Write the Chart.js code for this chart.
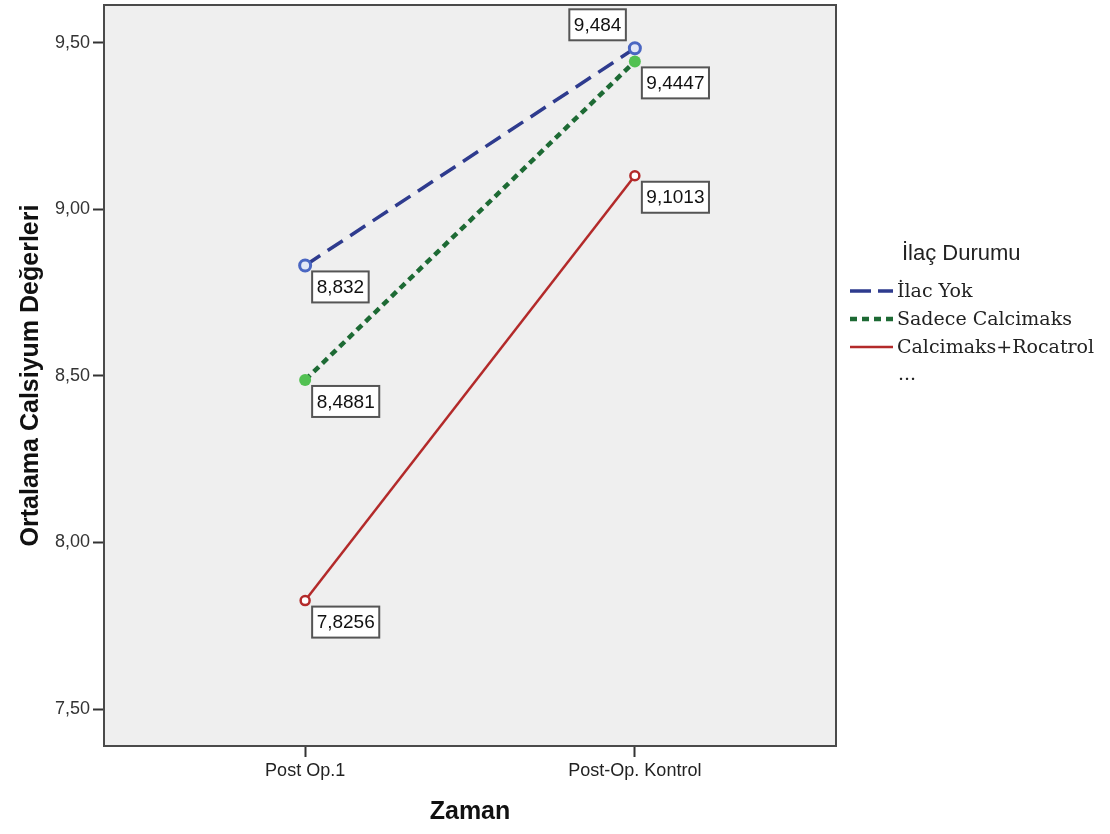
<!DOCTYPE html>
<html>
<head>
<meta charset="utf-8">
<script src="https://cdn.jsdelivr.net/npm/chart.js@4/dist/chart.umd.min.js"></script>
<style>
  html, body { margin: 0; padding: 0; background: #fff; }
  #wrap { width: 1110px; height: 834px; }
</style>
</head>
<body>
<div id="wrap"><canvas id="chart" width="1110" height="834"></canvas></div>
<script>
// data
const timePoints = ["Post Op.1", "Post-Op. Kontrol"];
const seriesNames = ["İlac Yok", "Sadece Calcimaks", "Calcimaks+Rocatrol"];
const ilacYok = [8.832, 9.484];
const sadeceCalcimaks = [8.4881, 9.4447];
const calcimaksRocatrol = [7.8256, 9.1013];
const yTicks = [7.5, 8.0, 8.5, 9.0, 9.5];
const valueLabels = [["8,832", "9,484"], ["8,4881", "9,4447"], ["7,8256", "9,1013"]];

// styling
const lineColors = ["#2e3b8e", "#1d6a34", "#b32a2a"];
const lineDashes = [[18, 9], [7, 5], []];
const lineWidths = [3.5, 4.5, 2.5];
// which side of the point each label box sits on
const labelSides = [["below", "above"], ["below", "below"], ["below", "below"]];

const FONT = "'Liberation Sans', Arial, sans-serif";

function toPoints(values) {
  return values.map((v, i) => ({ x: i, y: v }));
}

const plotBox = {
  id: "plotBox",
  beforeDraw(chart) {
    const { ctx, chartArea: a } = chart;
    ctx.save();
    ctx.fillStyle = "#efefef";
    ctx.fillRect(a.left, a.top, a.right - a.left, a.bottom - a.top);
    ctx.restore();
  },
  beforeDatasetsDraw(chart) {
    const { ctx, chartArea: a } = chart;
    ctx.save();
    ctx.strokeStyle = "#4a4a4a";
    ctx.lineWidth = 2;
    ctx.strokeRect(a.left, a.top, a.right - a.left, a.bottom - a.top);
    ctx.restore();
  }
};

const valueBoxes = {
  id: "valueBoxes",
  afterDatasetsDraw(chart) {
    const ctx = chart.ctx;
    ctx.save();
    ctx.font = "19px " + FONT;
    ctx.textBaseline = "middle";
    ctx.textAlign = "center";
    chart.data.datasets.forEach((ds, i) => {
      chart.getDatasetMeta(i).data.forEach((pt, j) => {
        const txt = valueLabels[i][j];
        const w = ctx.measureText(txt).width + 9;
        const h = 31;
        let bx, by;
        if (labelSides[i][j] === "above") {
          bx = pt.x - 9 - w;
          by = pt.y - 8 - h;
        } else {
          bx = pt.x + 7;
          by = pt.y + 6;
        }
        ctx.fillStyle = "#fff";
        ctx.fillRect(bx, by, w, h);
        ctx.strokeStyle = "#555";
        ctx.lineWidth = 2;
        ctx.strokeRect(bx, by, w, h);
        ctx.fillStyle = "#111";
        ctx.fillText(txt, bx + w / 2, by + h / 2 + 1);
      });
    });
    ctx.restore();
  }
};

const sideLegend = {
  id: "sideLegend",
  afterDraw(chart) {
    const ctx = chart.ctx;
    ctx.save();
    ctx.fillStyle = "#222";
    ctx.textBaseline = "middle";
    ctx.textAlign = "left";
    ctx.font = "22px " + FONT;
    ctx.fillText("İlaç Durumu", 902, 254);
    ctx.font = "19px 'DejaVu Serif', serif";
    seriesNames.forEach((name, i) => {
      const y = 291 + i * 28;
      ctx.strokeStyle = lineColors[i];
      ctx.lineWidth = lineWidths[i];
      ctx.setLineDash(i === 0 ? [21, 7] : lineDashes[i]);
      ctx.beginPath();
      ctx.moveTo(850, y);
      ctx.lineTo(893, y);
      ctx.stroke();
      ctx.setLineDash([]);
      ctx.fillStyle = "#222";
      ctx.fillText(name, 897, y + 1);
    });
    ctx.fillText("...", 898, 375);
    ctx.restore();
  }
};

new Chart(document.getElementById("chart"), {
  type: "line",
  data: {
    datasets: [
      {
        label: seriesNames[0],
        data: toPoints(ilacYok),
        borderColor: lineColors[0],
        borderWidth: lineWidths[0],
        borderDash: lineDashes[0],
        pointRadius: 5.5,
        pointBorderWidth: 3,
        pointBorderColor: "#4a66c2",
        pointBackgroundColor: "#e3e7f6"
      },
      {
        label: seriesNames[1],
        data: toPoints(sadeceCalcimaks),
        borderColor: lineColors[1],
        borderWidth: lineWidths[1],
        borderDash: lineDashes[1],
        pointRadius: 6,
        pointBorderWidth: 0,
        pointBackgroundColor: "#52c152"
      },
      {
        label: seriesNames[2],
        data: toPoints(calcimaksRocatrol),
        borderColor: lineColors[2],
        borderWidth: lineWidths[2],
        borderDash: lineDashes[2],
        pointRadius: 4.5,
        pointBorderWidth: 2.5,
        pointBorderColor: "#b32a2a",
        pointBackgroundColor: "#fff"
      }
    ]
  },
  options: {
    responsive: false,
    animation: false,
    layout: { autoPadding: false, padding: { top: 5, right: 274, left: 0, bottom: 0 } },
    plugins: {
      legend: { display: false },
      tooltip: { enabled: false }
    },
    scales: {
      x: {
        type: "linear",
        min: -0.61,
        max: 1.61,
        afterBuildTicks: s => { s.ticks = timePoints.map((_, i) => ({ value: i })); },
        afterFit: s => { s.height = 88; s.paddingLeft = 0; s.paddingRight = 0; },
        border: { display: false },
        grid: { drawOnChartArea: false, drawTicks: true, tickLength: 11, tickColor: "#333", tickWidth: 2 },
        ticks: {
          padding: 3,
          color: "#222",
          font: { family: FONT, size: 18 },
          callback: v => timePoints[v]
        },
        title: {
          display: true,
          text: "Zaman",
          color: "#111",
          font: { family: FONT, size: 25, weight: "bold" },
          padding: { top: 0, bottom: 7 }
        }
      },
      y: {
        min: 7.389,
        max: 9.614,
        afterBuildTicks: s => { s.ticks = yTicks.map(v => ({ value: v })); },
        afterFit: s => { s.width = 104; s.paddingTop = 0; s.paddingBottom = 0; },
        border: { display: false },
        grid: { drawOnChartArea: false, drawTicks: true, tickLength: 11, tickColor: "#333", tickWidth: 2 },
        ticks: {
          padding: 3,
          color: "#333",
          font: { family: FONT, size: 18 },
          callback: v => v.toFixed(2).replace(".", ",")
        },
        title: {
          display: true,
          text: "Ortalama Calsiyum Değerleri",
          color: "#111",
          font: { family: FONT, size: 25, weight: "bold" },
          padding: { top: 16, bottom: 0 }
        }
      }
    }
  },
  plugins: [plotBox, valueBoxes, sideLegend]
});
</script>
</body>
</html>
